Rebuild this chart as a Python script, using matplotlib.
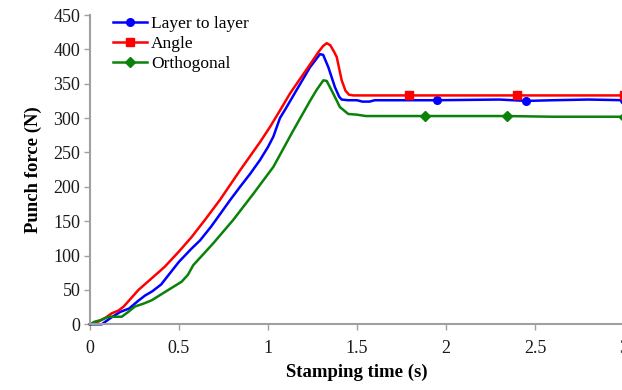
import numpy as np
import matplotlib
matplotlib.use('Agg')
import matplotlib.pyplot as plt

plt.rcParams['font.family'] = ['Liberation Serif', 'DejaVu Serif']

# Data
layer_t = [0, 0.066, 0.12, 0.17, 0.22, 0.27, 0.31, 0.35, 0.40, 0.43, 0.50, 0.57,
           0.618, 0.68, 0.73, 0.785, 0.843, 0.90, 0.955, 1.0, 1.03, 1.067, 1.10,
           1.161, 1.236, 1.292, 1.31, 1.339, 1.376, 1.40, 1.414, 1.45, 1.50, 1.53,
           1.57, 1.60, 1.95, 2.30, 2.45, 2.60, 2.80, 3.0]
layer_f = [0, 0, 10, 18, 23, 34, 42, 48, 58, 68, 91, 110,
           122, 142, 160, 180, 200, 219, 239, 258, 273, 300, 314,
           341, 374, 393, 392, 374, 345, 331, 327, 326, 326, 324,
           324, 326, 326, 327, 325, 326, 327, 326]

angle_t = [0, 0.047, 0.09, 0.122, 0.16, 0.19, 0.272, 0.347, 0.421, 0.50, 0.571,
           0.646, 0.73, 0.843, 0.955, 1.011, 1.067, 1.124, 1.18, 1.236, 1.283,
           1.31, 1.33, 1.35, 1.37, 1.386, 1.40, 1.414, 1.435, 1.455, 1.48, 1.79,
           2.40, 3.0]
angle_f = [0, 4, 10, 16, 20, 26, 50, 67, 84, 106, 127,
           152, 181, 224, 265, 287, 311, 336, 357, 378, 396,
           405, 409, 406, 397, 389, 372, 355, 340, 334, 333, 333,
           333, 333]

ortho_t = [0, 0.028, 0.06, 0.103, 0.178, 0.21, 0.253, 0.30, 0.347, 0.44, 0.515,
           0.55, 0.58, 0.693, 0.805, 0.918, 1.03, 1.142, 1.236, 1.273, 1.311,
           1.33, 1.358, 1.404, 1.451, 1.50, 1.55, 1.88, 2.20, 2.34, 2.60, 3.0]
ortho_f = [0, 4, 6, 11, 11, 17, 26, 30, 35, 50, 62,
           72, 86, 118, 152, 190, 229, 282, 325, 341, 355,
           354, 340, 316, 306, 305, 303, 303, 303, 303, 302, 302]

# times where the markers sit
layer_marks = [1.95, 2.45, 3.0]
angle_marks = [1.79, 2.40, 3.0]
ortho_marks = [1.88, 2.34, 3.0]

fig = plt.figure(figsize=(6.22, 3.90), dpi=100)
ax = fig.add_axes([90 / 622, 1 - 324.3 / 390, 534 / 622, 309.3 / 390])

series = [
    (layer_t, layer_f, layer_marks, '#0000ff', 'o', 5.5, 'Layer to layer'),
    (angle_t, angle_f, angle_marks, '#ff0000', 's', 6, 'Angle'),
    (ortho_t, ortho_f, ortho_marks, '#0a820a', 'D', 5, 'Orthogonal'),
]
for t, f, marks, col, mk, ms, lab in series:
    idx = list(np.where(np.isin(np.array(t), marks))[0])
    ax.plot(t, f, color=col, lw=1.8, marker=mk, ms=ms, markevery=idx,
            label=lab, clip_on=False)

ax.set_xlim(0, 3)
ax.set_ylim(0, 450)
ax.set_xticks([0, 0.5, 1, 1.5, 2, 2.5, 3])
ax.set_xticklabels(['0', '0.5', '1', '1.5', '2', '2.5', '3'])
ax.set_yticks(range(0, 451, 50))

for s in ['top', 'right']:
    ax.spines[s].set_visible(False)
for s in ['left', 'bottom']:
    ax.spines[s].set_color('#a0a0a0')
    ax.spines[s].set_linewidth(1.5)
ax.tick_params(axis='both', colors='#a0a0a0', length=4, width=1,
               labelcolor='#1a1a1a', labelsize=13)
ax.tick_params(axis='x', pad=7)
ax.tick_params(axis='y', pad=3)

ax.set_xlabel('Stamping time (s)', fontsize=13.5, fontweight='bold', labelpad=5)
ax.set_ylabel('Punch force (N)', fontsize=13.5, fontweight='bold', labelpad=8)

ax.legend(loc='upper left', bbox_to_anchor=(0.043, 0.998), frameon=False,
          fontsize=12.5, borderpad=0, borderaxespad=0, labelspacing=0.24,
          handlelength=1.95, handletextpad=0.25)

fig.savefig('out.png', dpi=100)
